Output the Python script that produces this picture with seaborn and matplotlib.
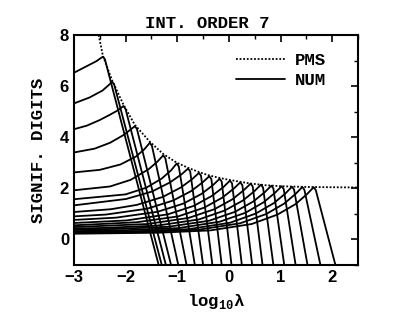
import matplotlib
matplotlib.use("Agg")
import matplotlib.pyplot as plt
import seaborn as sns
import pandas as pd
from matplotlib.ticker import MultipleLocator

# PMS envelope (dotted)
pms_x = [-2.52, -2.44, -2.26, -2.04, -1.82, -1.53, -1.33, -1.27, -1.01, -0.79,
         -0.56, -0.38, -0.17, 0.0, 0.2, 0.4, 0.7, 1.0, 1.5, 2.0, 2.5]
pms_y = [8.0, 7.2, 6.22, 5.27, 4.48, 3.82, 3.45, 3.34, 3.0, 2.8,
         2.62, 2.50, 2.40, 2.33, 2.26, 2.19, 2.12, 2.08, 2.05, 2.04, 2.03]

# NUM curves: rising part (read points), then rounded peak and steep drop
rise_x = [
    [-3, -2.75, -2.56, -2.44],
    [-3, -2.7, -2.45, -2.33, -2.26],
    [-3, -2.75, -2.5, -2.3, -2.15, -2.04],
    [-3, -2.6, -2.3, -2.05, -1.92, -1.82],
    [-3, -2.5, -2.1, -1.8, -1.64, -1.53],
    [-3, -2.3, -1.9, -1.55, -1.38, -1.27],
    [-3, -2.0, -1.6, -1.3, -1.12, -1.01],
    [-3, -1.99, -1.49, -1.14, -0.92, -0.79],
    [-3, -2.28, -1.78, -1.28, -0.93, -0.71, -0.58],
    [-3, -2.38, -1.58, -1.08, -0.73, -0.51, -0.38],
    [-3, -2.18, -1.38, -0.88, -0.53, -0.31, -0.18],
    [-3, -1.98, -1.18, -0.68, -0.33, -0.11, 0.02],
    [-3, -1.78, -0.98, -0.48, -0.13, 0.09, 0.22],
    [-3, -1.58, -0.78, -0.28, 0.07, 0.29, 0.42],
    [-3, -2.38, -1.38, -0.58, -0.08, 0.27, 0.49, 0.62],
    [-3, -2.18, -1.18, -0.38, 0.12, 0.47, 0.69, 0.82],
    [-3, -1.98, -0.98, -0.18, 0.32, 0.67, 0.89, 1.02],
    [-3, -1.78, -0.78, 0.02, 0.52, 0.87, 1.09, 1.22],
    [-3, -1.58, -0.58, 0.22, 0.72, 1.07, 1.29, 1.42],
    [-3, -1.36, -0.36, 0.44, 0.94, 1.29, 1.51, 1.64],
]
rise_y = [
    [6.52, 6.78, 6.98, 7.15],
    [5.32, 5.55, 5.82, 6.03, 6.17],
    [4.31, 4.45, 4.67, 4.88, 5.05, 5.22],
    [3.40, 3.55, 3.78, 4.07, 4.27, 4.43],
    [2.62, 2.72, 2.93, 3.24, 3.52, 3.78],
    [1.92, 2.07, 2.33, 2.75, 3.05, 3.29],
    [1.57, 1.76, 2.02, 2.38, 2.70, 2.97],
    [1.33, 1.58, 1.87, 2.23, 2.54, 2.77],
    [1.07, 1.18, 1.35, 1.66, 2.03, 2.36, 2.60],
    [0.90, 0.97, 1.20, 1.52, 1.89, 2.23, 2.47],
    [0.76, 0.85, 1.08, 1.40, 1.78, 2.12, 2.37],
    [0.64, 0.74, 0.98, 1.31, 1.70, 2.04, 2.30],
    [0.55, 0.67, 0.90, 1.24, 1.63, 1.98, 2.23],
    [0.48, 0.60, 0.84, 1.18, 1.57, 1.93, 2.18],
    [0.42, 0.45, 0.54, 0.78, 1.13, 1.52, 1.88, 2.14],
    [0.37, 0.41, 0.49, 0.73, 1.08, 1.48, 1.84, 2.10],
    [0.32, 0.36, 0.44, 0.69, 1.04, 1.45, 1.82, 2.08],
    [0.28, 0.32, 0.40, 0.65, 1.01, 1.42, 1.79, 2.06],
    [0.25, 0.29, 0.38, 0.63, 0.99, 1.40, 1.78, 2.05],
    [0.22, 0.26, 0.35, 0.60, 0.97, 1.38, 1.77, 2.04],
]
# just past the peak, and where each curve leaves the frame at y = -1
after_x = [-2.40, -2.22, -2.00, -1.78, -1.49, -1.23, -0.97, -0.75, -0.54, -0.34,
           -0.14, 0.06, 0.26, 0.46, 0.66, 0.86, 1.06, 1.26, 1.46, 1.68]
after_y = [7.05, 6.06, 5.10, 4.32, 3.66, 3.17, 2.85, 2.66, 2.49, 2.36,
           2.26, 2.19, 2.12, 2.07, 2.03, 1.99, 1.97, 1.95, 1.94, 1.93]
bottom_x = [-1.36, -1.30, -1.22, -1.12, -0.98, -0.82, -0.66, -0.50, -0.32, -0.14,
            0.05, 0.25, 0.45, 0.65, 0.86, 1.07, 1.29, 1.52, 1.77, 2.06]
bottom_y = -1.0

rows = []
for i in range(len(rise_x)):
    xs = list(rise_x[i]) + [after_x[i], bottom_x[i]]
    ys = list(rise_y[i]) + [after_y[i], bottom_y]
    for j, (a, b) in enumerate(zip(xs, ys)):
        rows.append({"x": a, "y": b, "curve": i, "order": j})
num_df = pd.DataFrame(rows)
pms_df = pd.DataFrame({"x": pms_x, "y": pms_y})

sns.set_theme(style="white")
plt.rcParams["font.family"] = ["Liberation Sans", "DejaVu Sans"]
plt.rcParams["text.color"] = "black"
plt.rcParams["axes.labelcolor"] = "black"
plt.rcParams["xtick.color"] = "black"
plt.rcParams["ytick.color"] = "black"

fig = plt.figure(figsize=(4.15, 3.18), dpi=100)
ax = fig.add_axes([0.178, 0.167, 0.685, 0.723])

sns.lineplot(data=pms_df, x="x", y="y", ax=ax, color="black", lw=1.3,
             linestyle=(0, (1, 1)), sort=False, label="PMS")
sns.lineplot(data=num_df, x="x", y="y", units="curve", estimator=None, ax=ax,
             color="black", lw=1.3, sort=False)
ax.plot([], [], color="black", lw=1.3, label="NUM")

ax.set_xlim(-3, 2.5)
ax.set_ylim(-1, 8)
ax.xaxis.set_major_locator(MultipleLocator(1))
ax.xaxis.set_minor_locator(MultipleLocator(0.5))
ax.yaxis.set_major_locator(MultipleLocator(2))
ax.yaxis.set_minor_locator(MultipleLocator(1))
ax.tick_params(which="both", direction="in", top=True, right=True, color="black")
ax.tick_params(which="major", length=5, width=1.2)
ax.tick_params(which="minor", length=3, width=1.0)
ax.set_xticks([-3, -2, -1, 0, 1, 2])
ax.set_xticklabels(["\u22123", "\u22122", "\u22121", "0", "1", "2"],
                   fontweight="bold", fontsize=12, color="black")
ax.set_yticks([0, 2, 4, 6, 8])
ax.set_yticklabels(["0", "2", "4", "6", "8"], fontweight="bold", fontsize=12, color="black")
for s in ax.spines.values():
    s.set_color("black")
    s.set_linewidth(1.5)

mono = ["Liberation Mono", "DejaVu Sans Mono"]
ax.set_title("INT. ORDER 7", family=mono, fontweight="bold", fontsize=12.5, pad=5,
             color="black", x=0.47)
ax.set_ylabel("SIGNIF. DIGITS", family=mono, fontweight="bold", fontsize=12.5,
              labelpad=10, color="black")
ax.set_xlabel(r"log$_{\mathregular{10}}$λ", family=mono, fontweight="bold", fontsize=12.5,
              labelpad=5, color="black")

leg = ax.legend(loc="upper right", bbox_to_anchor=(0.93, 0.975), frameon=False,
                handlelength=2.8, prop={"family": mono, "weight": "bold", "size": 12.5},
                borderaxespad=0.3, labelspacing=0.3, handletextpad=0.6)

fig.savefig("out.png", dpi=100)
